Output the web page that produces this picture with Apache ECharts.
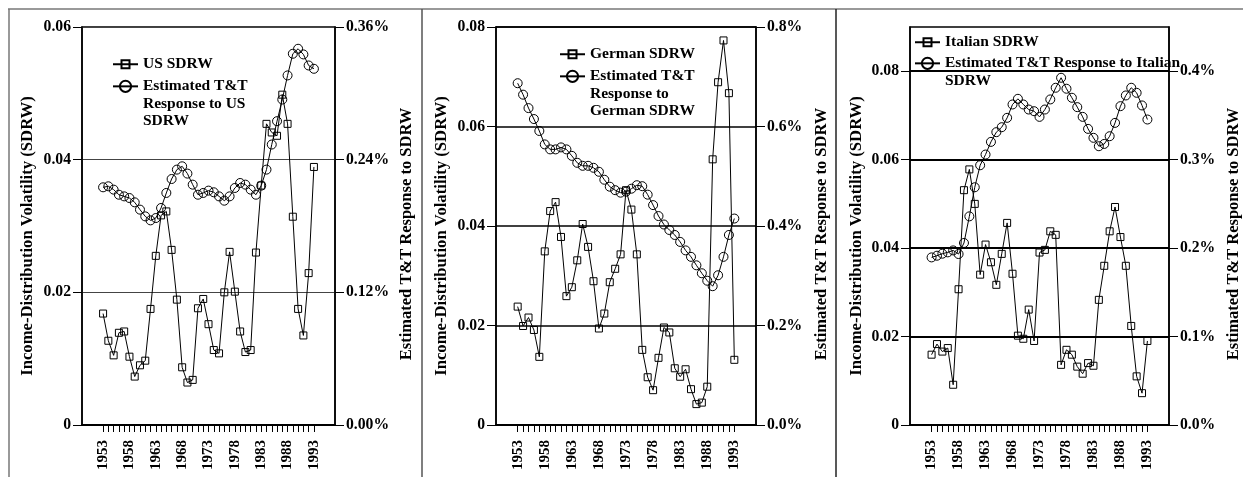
<!DOCTYPE html>
<html>
<head>
<meta charset="utf-8">
<script src="https://cdn.jsdelivr.net/npm/echarts@6/dist/echarts.min.js"></script>
<style>
  html, body { margin: 0; padding: 0; background: #fff; }
  #chart { width: 1243px; height: 477px; }
</style>
</head>
<body>
<div id="chart"></div>
<script>
// x axis runs 1949..1997, data covers 1953..1993
const axisYears = []
for (let y = 1949; y <= 1997; y++) axisYears.push(String(y))
const dataYears = []
for (let y = 1953; y <= 1993; y++) dataYears.push(String(y))

// US
const usSdrw = [0.0168, 0.0127, 0.0105, 0.0139, 0.0141, 0.0103, 0.0073, 0.0090, 0.0097, 0.0175,
  0.0255, 0.0316, 0.0322, 0.0264, 0.0189, 0.0087, 0.0064, 0.0068, 0.0176, 0.0190,
  0.0152, 0.0113, 0.0108, 0.0200, 0.0261, 0.0201, 0.0141, 0.0110, 0.0113, 0.0260,
  0.0361, 0.0454, 0.0441, 0.0436, 0.0498, 0.0454, 0.0314, 0.0175, 0.0135, 0.0229, 0.0389]
const usResp = [0.2150, 0.2159, 0.2129, 0.2083, 0.2068, 0.2053, 0.2014, 0.1948, 0.1887, 0.1851,
  0.1872, 0.1963, 0.2099, 0.2225, 0.2310, 0.2340, 0.2274, 0.2174, 0.2083, 0.2099,
  0.2120, 0.2105, 0.2068, 0.2029, 0.2068, 0.2144, 0.2189, 0.2174, 0.2129, 0.2083,
  0.2165, 0.2310, 0.2537, 0.2748, 0.2944, 0.3162, 0.3358, 0.3403, 0.3352, 0.3252, 0.3222]

// Germany
const deSdrw = [0.0238, 0.0199, 0.0216, 0.0191, 0.0137, 0.0349, 0.0430, 0.0448, 0.0378, 0.0259,
  0.0277, 0.0331, 0.0404, 0.0358, 0.0289, 0.0194, 0.0224, 0.0287, 0.0314, 0.0343,
  0.0472, 0.0433, 0.0343, 0.0151, 0.0096, 0.0070, 0.0135, 0.0196, 0.0186, 0.0114,
  0.0097, 0.0112, 0.0072, 0.0042, 0.0045, 0.0077, 0.0534, 0.0689, 0.0773, 0.0667, 0.0131]
const deResp = [0.687, 0.664, 0.637, 0.615, 0.591, 0.564, 0.554, 0.554, 0.558, 0.554,
  0.541, 0.527, 0.521, 0.521, 0.517, 0.509, 0.493, 0.479, 0.472, 0.467,
  0.469, 0.475, 0.482, 0.480, 0.463, 0.442, 0.420, 0.403, 0.392, 0.382,
  0.368, 0.351, 0.338, 0.321, 0.305, 0.290, 0.279, 0.301, 0.338, 0.382, 0.415]

// Italy
const itSdrw = [0.0159, 0.0183, 0.0166, 0.0174, 0.0091, 0.0307, 0.0531, 0.0578, 0.0500, 0.0340,
  0.0408, 0.0368, 0.0317, 0.0387, 0.0457, 0.0342, 0.0202, 0.0195, 0.0261, 0.0190,
  0.0390, 0.0396, 0.0438, 0.0430, 0.0136, 0.0170, 0.0159, 0.0132, 0.0116, 0.0140,
  0.0134, 0.0283, 0.0360, 0.0438, 0.0493, 0.0425, 0.0360, 0.0224, 0.0110, 0.0072, 0.0190]
const itResp = [0.1895, 0.1914, 0.1937, 0.1952, 0.1974, 0.1933, 0.2058, 0.2359, 0.2688, 0.2937,
  0.3058, 0.3201, 0.3311, 0.3367, 0.3473, 0.3624, 0.3688, 0.3624, 0.3567, 0.3548,
  0.3484, 0.3567, 0.3681, 0.3813, 0.3926, 0.3802, 0.3700, 0.3594, 0.3484, 0.3348,
  0.3247, 0.3152, 0.3178, 0.3265, 0.3416, 0.3605, 0.3726, 0.3813, 0.3756, 0.3613, 0.3454]

const FONT = 'Liberation Serif'
const txt = { color: '#000', fontFamily: FONT, fontWeight: 'bold', fontSize: 15.7 }
const LEGEND_LH = 17.5

const panels = [
  {
    grid: { left: 82, right: 908 },
    sdrw: usSdrw, resp: usResp,
    names: ['US SDRW', 'Estimated T&T Response to US SDRW'],
    labels: ['US SDRW', 'Estimated T&T\nResponse to US\nSDRW'],
    leftMax: 0.06, rightInterval: 0.12, rightDigits: 2,
    gridColor: '#444', gridWidth: 1.2,
    legendLeft: 112, legendY: [65, 87],
    leftGap: 46, rightGap: 63
  },
  {
    grid: { left: 496, right: 487 },
    sdrw: deSdrw, resp: deResp,
    names: ['German SDRW', 'Estimated T&T Response to German SDRW'],
    labels: ['German SDRW', 'Estimated T&T\nResponse to\nGerman SDRW'],
    leftMax: 0.08, rightInterval: 0.2, rightDigits: 1,
    gridColor: '#000', gridWidth: 1.5,
    legendLeft: 559, legendY: [55, 77],
    leftGap: 46, rightGap: 57
  },
  {
    grid: { left: 910, right: 73 },
    sdrw: itSdrw, resp: itResp,
    names: ['Italian SDRW', 'Estimated T&T Response to Italian SDRW'],
    labels: ['Italian SDRW', 'Estimated T&T Response to Italian\nSDRW'],
    leftMax: 0.09, rightInterval: 0.1, rightDigits: 1,
    gridColor: '#000', gridWidth: 2,
    legendLeft: 914, legendY: [43, 64],
    leftGap: 45, rightGap: 56
  }
]

const grid = [], xAxis = [], yAxis = [], series = [], legend = []

panels.forEach((p, i) => {
  grid.push({
    left: p.grid.left, right: p.grid.right, top: 27, bottom: 52,
    show: true, borderColor: '#000', borderWidth: 1.5, backgroundColor: 'transparent'
  })

  xAxis.push({
    type: 'category',
    gridIndex: i,
    data: axisYears,
    boundaryGap: false,
    axisLine: { lineStyle: { color: '#000', width: 2 } },
    axisTick: {
      length: 7,
      lineStyle: { color: '#000', width: 1 },
      interval: (idx, val) => +val >= 1953 && +val <= 1993
    },
    axisLabel: Object.assign({}, txt, {
      fontSize: 15,
      rotate: 90,
      margin: 15,
      interval: (idx, val) => +val >= 1953 && +val <= 1993 && (+val - 1953) % 5 === 0
    }),
    splitLine: { show: false }
  })

  // ticks stop at the last full step (panel 3 tops out at 0.09)
  const leftTicks = []
  for (let v = 0; v <= p.leftMax + 1e-9; v += 0.02) leftTicks.push(+v.toFixed(2))
  const ratio = p.rightInterval / 0.02
  const rightTicks = leftTicks.map(v => +(v * ratio).toFixed(3))

  yAxis.push({
    type: 'value',
    gridIndex: i,
    position: 'left',
    min: 0, max: p.leftMax, interval: 0.02,
    name: 'Income-Distribution Volatility (SDRW)',
    nameLocation: 'middle',
    nameRotate: 90,
    nameGap: p.leftGap,
    nameTextStyle: Object.assign({}, txt, { fontSize: 16.7, padding: [0, 20, 0, 0] }),
    axisLine: { show: true, lineStyle: { color: '#000', width: 1.5 } },
    axisTick: { show: true, length: 9, customValues: leftTicks, lineStyle: { color: '#000', width: 1 } },
    axisLabel: Object.assign({}, txt, {
      margin: 11,
      customValues: leftTicks,
      formatter: v => v === 0 ? '0' : v.toFixed(2)
    }),
    splitLine: { show: true, lineStyle: { color: p.gridColor, width: p.gridWidth } }
  })

  yAxis.push({
    type: 'value',
    gridIndex: i,
    position: 'right',
    min: 0, max: +(p.leftMax * ratio).toFixed(3), interval: p.rightInterval,
    name: 'Estimated T&T Response to SDRW',
    nameLocation: 'middle',
    nameRotate: 90,
    nameGap: p.rightGap,
    nameTextStyle: Object.assign({}, txt, { fontSize: 16.5, padding: [0, 16, 0, 0] }),
    axisLine: { show: true, lineStyle: { color: '#000', width: 1.5 } },
    axisTick: { show: true, length: 9, customValues: rightTicks, lineStyle: { color: '#000', width: 1 } },
    axisLabel: Object.assign({}, txt, {
      margin: 11,
      customValues: rightTicks,
      formatter: v => v.toFixed(p.rightDigits) + '%'
    }),
    splitLine: { show: false }
  })

  series.push({
    name: p.names[0],
    type: 'line',
    xAxisIndex: i,
    yAxisIndex: i * 2,
    data: dataYears.map((y, k) => [y, p.sdrw[k]]),
    symbol: 'rect',
    symbolSize: 7,
    showAllSymbol: true,
    itemStyle: { color: 'none', borderColor: '#000', borderWidth: 1 },
    lineStyle: { color: '#000', width: 1 },
    z: 3
  })
  series.push({
    name: p.names[1],
    type: 'line',
    xAxisIndex: i,
    yAxisIndex: i * 2 + 1,
    data: dataYears.map((y, k) => [y, p.resp[k]]),
    symbol: 'circle',
    symbolSize: 9,
    showAllSymbol: true,
    itemStyle: { color: 'none', borderColor: '#000', borderWidth: 1 },
    lineStyle: { color: '#000', width: 1 },
    z: 3
  })

  // one legend per item; rich text with top padding so extra lines hang below the icon
  p.names.forEach((n, k) => {
    const lines = p.labels[k].split('\n')
    const pad = LEGEND_LH * (lines.length - 1)
    const iconH = k === 0 ? 10 : 14
    // box top sits at the first text line / icon, whichever is higher
    const half = Math.max(iconH / 2, LEGEND_LH / 2)
    legend.push({
      data: [n],
      left: p.legendLeft,
      top: p.legendY[k] - half,
      padding: 0,
      itemWidth: 25,
      itemHeight: iconH,
      itemGap: 0,
      selectedMode: false,
      formatter: () => lines.map(s => '{a|' + s + '}').join('\n'),
      textStyle: {
        padding: [pad, 0, 0, 0],
        rich: {
          a: { color: '#000', fontFamily: FONT, fontWeight: 'bold', fontSize: 15.5, lineHeight: LEGEND_LH }
        }
      }
    })
  })
})

// outer frame and panel separators
const frame = { stroke: '#777', lineWidth: 1.5 }
const graphic = [
  { type: 'line', shape: { x1: 8, y1: 9, x2: 1243, y2: 9 }, style: frame, silent: true },
  { type: 'line', shape: { x1: 9, y1: 9, x2: 9, y2: 477 }, style: frame, silent: true },
  { type: 'line', shape: { x1: 422, y1: 9, x2: 422, y2: 477 }, style: { stroke: '#555', lineWidth: 1.5 }, silent: true },
  { type: 'line', shape: { x1: 836, y1: 9, x2: 836, y2: 477 }, style: { stroke: '#222', lineWidth: 1.5 }, silent: true }
]

const chart = echarts.init(document.getElementById('chart'), null, { renderer: 'canvas' })
chart.setOption({
  animation: false,
  backgroundColor: '#fff',
  textStyle: { fontFamily: FONT },
  grid, xAxis, yAxis, series, legend, graphic
})
</script>
</body>
</html>
